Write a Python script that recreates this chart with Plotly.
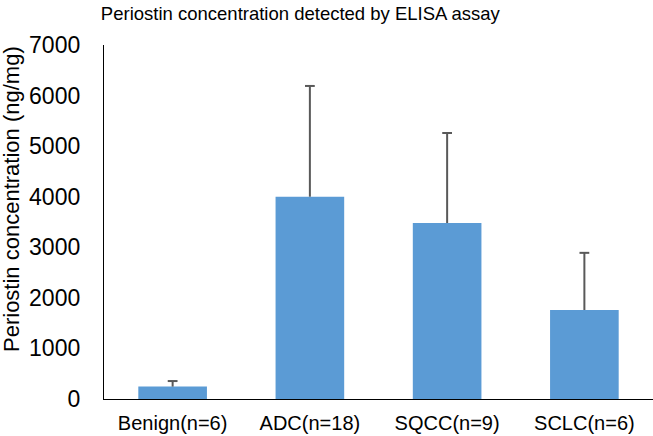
import plotly.graph_objects as go

categories = ["Benign(n=6)", "ADC(n=18)", "SQCC(n=9)", "SCLC(n=6)"]
means = [245, 4000, 3480, 1760]
sd_plus = [110, 2190, 1780, 1130]
zeros = [0, 0, 0, 0]
y_ticks = [0, 1000, 2000, 3000, 4000, 5000, 6000, 7000]

FONT = "Liberation Sans, Arial, sans-serif"
BLUE = "#5B9BD5"
GREY = "#595959"

fig = go.Figure()
fig.add_trace(go.Bar(
    x=categories, y=means, width=0.5,
    marker=dict(color=BLUE, line=dict(width=0)),
    showlegend=False,
))
# upper error bars only: whisker from bar top up to mean + SD, with a cap
tops = [m + s for m, s in zip(means, sd_plus)]
fig.add_trace(go.Scatter(
    x=categories, y=tops, mode="markers",
    marker=dict(symbol="line-ew", size=7, color=GREY, line=dict(color=GREY, width=2)),
    error_y=dict(type="data", symmetric=False, array=zeros, arrayminus=sd_plus,
                 color=GREY, thickness=2, width=0),
    hoverinfo="skip", showlegend=False,
))

fig.update_layout(
    width=653, height=436,
    margin=dict(l=104, r=0, t=45, b=37),
    plot_bgcolor="white", paper_bgcolor="white",
    font=dict(family=FONT, color="#000000"),
    title=dict(text="Periostin concentration detected by ELISA assay",
               x=0.46, xanchor="center", y=0.97, yanchor="middle",
               font=dict(size=18.5, family=FONT, color="#000000")),
    annotations=[dict(
        text="Periostin concentration (ng/mg)", textangle=-90,
        xref="paper", yref="paper", x=(12 - 104) / 549, y=0.565,
        xanchor="center", yanchor="middle", showarrow=False,
        font=dict(size=22, family=FONT, color="#000000"),
    )],
)
fig.update_xaxes(
    showline=True, linecolor="#000000", linewidth=1.3,
    ticks="", showgrid=False, tickfont=dict(size=20, family=FONT),
    ticklabelstandoff=6,
)
fig.update_yaxes(
    range=[0, 7000], tickvals=y_ticks, ticktext=[str(v) for v in y_ticks],
    showline=True, linecolor="#000000", linewidth=1.3,
    ticks="", showgrid=False, zeroline=False,
    tickfont=dict(size=23, family=FONT),
    ticklabelstandoff=18,
)

fig.write_html(
    "out.html",
    config={"displayModeBar": False},
    post_script="document.body.style.margin='0';document.body.style.overflow='hidden';",
)
